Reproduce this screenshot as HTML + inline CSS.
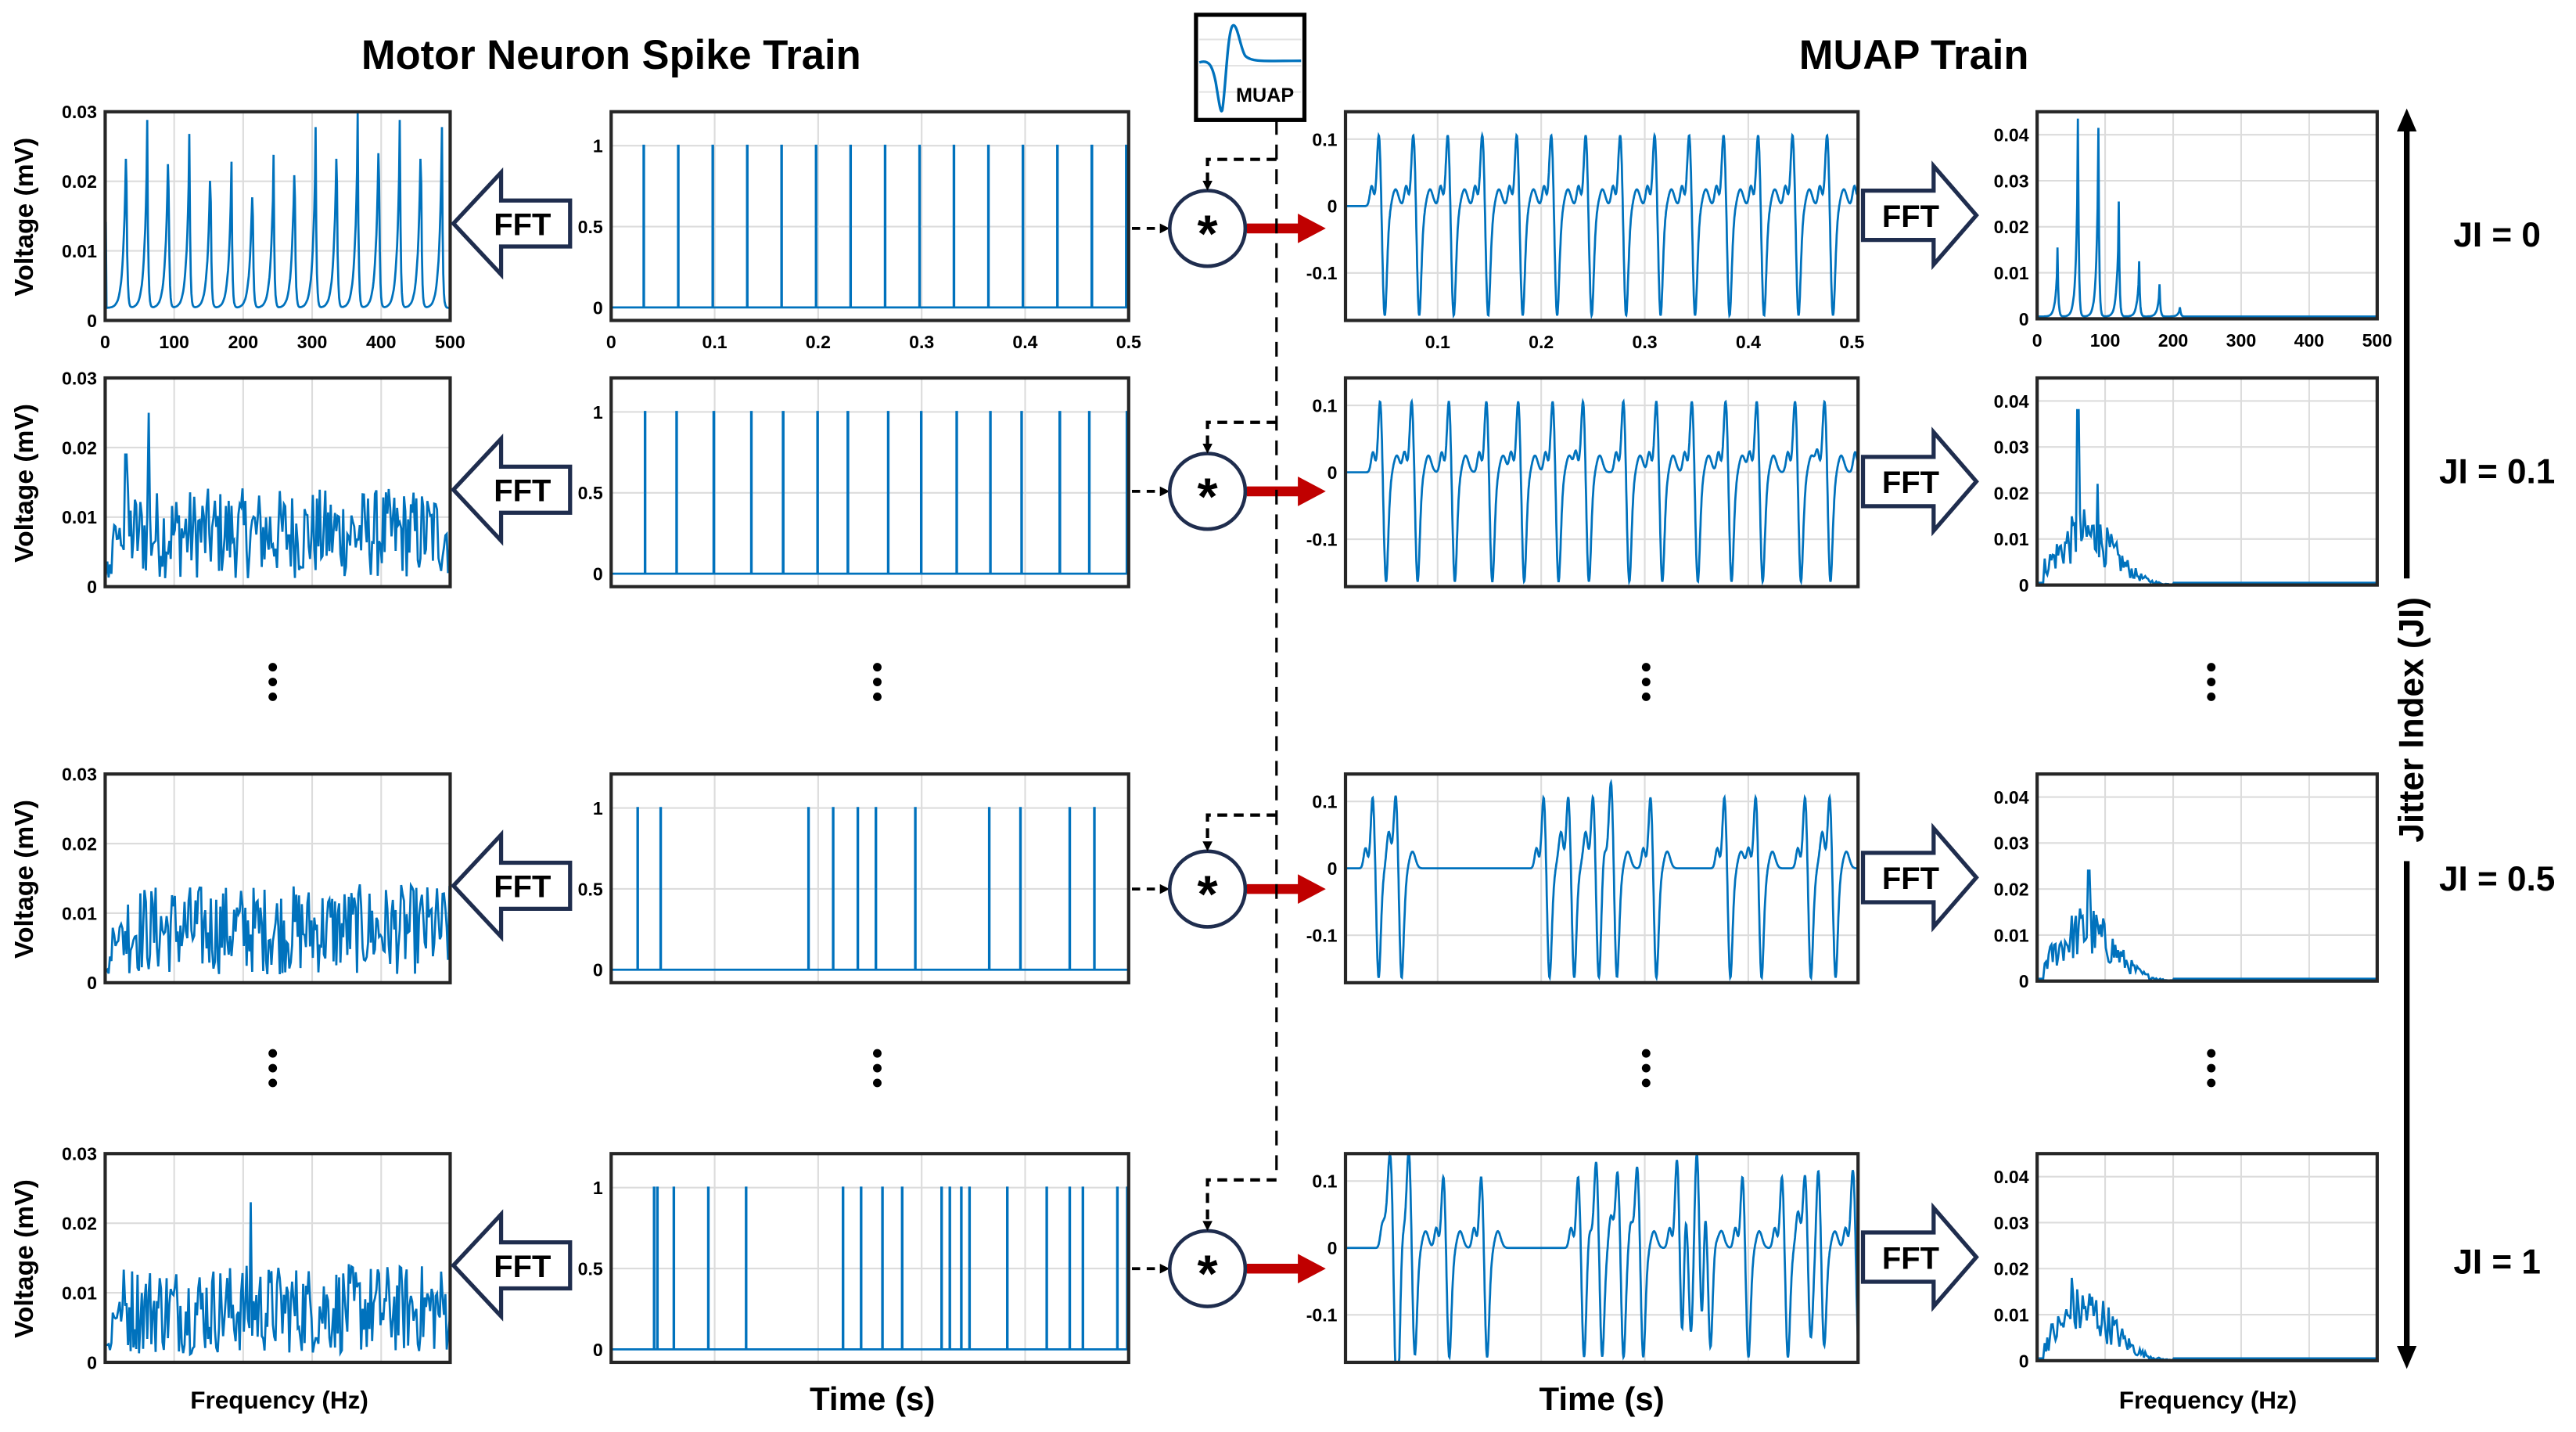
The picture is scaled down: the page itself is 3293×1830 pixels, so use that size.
<!DOCTYPE html>
<html><head><meta charset="utf-8"><style>
html,body{margin:0;padding:0;background:#fff;}
svg{display:block;}
text{font-family:"Liberation Sans",sans-serif;}
</style></head><body>
<svg id="s" xmlns="http://www.w3.org/2000/svg" width="3293" height="1830" viewBox="0 0 1568 871.4">
<rect width="1568" height="872" fill="#fff"/>
<text x="372" y="42" font-size="25" font-weight="bold" text-anchor="middle">Motor Neuron Spike Train</text>
<text x="1165" y="42" font-size="25" font-weight="bold" text-anchor="middle">MUAP Train</text>
<g id="g"></g>
</svg>
<script>
var NS="http://www.w3.org/2000/svg",G=document.getElementById("g");
function el(t,a,txt){var e=document.createElementNS(NS,t);for(var k in a)e.setAttribute(k,a[k]);if(txt!=null)e.textContent=txt;G.appendChild(e);return e;}
var seed=12345;function rnd(){seed=(seed*1103515245+12345)%2147483648;return seed/2147483648;}
function plot(X,Y,W,H,xl,yl,yt,ytl,xt,xtl,xg,pts){
 el("rect",{x:X,y:Y,width:W,height:H,fill:"#fff"});
 function mx(v){return X+(v-xl[0])/(xl[1]-xl[0])*W;}
 function my(v){return Y+H-(v-yl[0])/(yl[1]-yl[0])*H;}
 xg.forEach(function(v){var x=mx(v);el("line",{x1:x,y1:Y,x2:x,y2:Y+H,stroke:"#dcdcdc","stroke-width":1});});
 yt.forEach(function(v,i){var y=my(v);el("line",{x1:X,y1:y,x2:X+W,y2:y,stroke:"#dcdcdc","stroke-width":1});
  el("text",{x:X-5,y:y+4,"font-size":11,"font-weight":"bold","text-anchor":"end"},ytl[i]);});
 if(xt)xt.forEach(function(v,i){el("text",{x:mx(v),y:Y+H+17,"font-size":11,"font-weight":"bold","text-anchor":"middle"},xtl[i]);});
 var d="";pts.forEach(function(p,i){var x=Math.max(X,Math.min(X+W,mx(p[0]))),y=Math.max(Y,Math.min(Y+H,my(p[1])));d+=(i?"L":"M")+x.toFixed(1)+","+y.toFixed(1);});
 el("path",{d:d,fill:"none",stroke:"#0072BD","stroke-width":1.3});
 el("rect",{x:X,y:Y,width:W,height:H,fill:"none",stroke:"#262626","stroke-width":2});
}
var rows=[68,230,471,702];
var spikes=[[],[],[],[]];
for(var k=1;k<=15;k++)spikes[0].push(0.0333*k-0.002);
for(var k=1;k<=15;k++)spikes[1].push(0.0333*k-0.002+(rnd()-0.5)*0.008);
[388,402,492,507,522,533,557,602,621,651,666].forEach(function(p){spikes[2].push((p-372)/630);});
[398,400,410,431,454,513,524,537,549,573,578,585,590,613,637,651,659,680,686].forEach(function(p){spikes[3].push((p-372)/630);});
function leftSpec(r){var p=[];for(var f=0;f<=500;f+=1){var v;
 if(r==0){v=0.0018;var hs=[.027,.027,.026,.025,.023,.021,.02,.022,.024,.026,.027,.028,.028,.027,.027,.026];
  for(var i=0;i<16;i++){var fk=30.5*(i+1);var df=f-fk;v+= df>=0? hs[i]*Math.exp(-df/1.2): hs[i]*Math.exp(df/4)*0.9;}
  if(f<2)v=0.014;}
 else{v=0.007+(rnd()-0.45)*0.013*(f<25?0.3:1);if(r==1&&Math.abs(f-29)<2)v=0.019;if(r==1&&Math.abs(f-62)<2)v=0.025;if(r==3&&Math.abs(f-210)<2)v=0.023;if(f<10)v=0.001+rnd()*0.003;v=Math.max(0.0005,v);f+=1;}
 p.push([f,v]);}return p;}
function rightSpec(r){var p=[];for(var f=0;f<=500;f+=1){var v=0.0005;
 if(r==0){var hs=[.015,.043,.041,.025,.012,.007,.002];for(var i=0;i<7;i++){var df=f-30*(i+1);v+=df>=0?hs[i]*Math.exp(-df/1.2):hs[i]*Math.exp(df/3)*0.8;}}
 else{if(f>8&&f<200){var env=Math.exp(-Math.pow((f-70)/60,2))*0.012;v=env*(0.4+rnd()*1.0);}
  if(r==1&&Math.abs(f-59)<2)v=0.038;if(r==1&&Math.abs(f-88)<2)v=0.022;if(r==2&&Math.abs(f-75)<2)v=0.024;if(r==3&&Math.abs(f-50)<2)v=0.018;f+=1;}
 p.push([f,v]);}return p;}
function spikeTrain(r){var p=[[0,0]];spikes[r].forEach(function(t){p.push([t,0],[t,1],[t+0.0005,1],[t+0.0005,0]);});p.push([0.5,0]);return p;}
function muap(r){var p=[],w=0.0035;for(var t=0.011;t<=0.506;t+=0.0004){var v=0;
 spikes[r].forEach(function(s){var u=t-s-0.012;v+=0.03*Math.exp(-Math.pow((u+0.007)/0.0025,2))+0.11*Math.exp(-Math.pow(u/w*1.3,2))-0.162*Math.exp(-Math.pow((u-0.0055)/w*1.2,2))+0.025*Math.exp(-Math.pow((u-0.016)/0.004,2))-0.012*Math.exp(-Math.pow((u-0.009)/0.003,2));});
 p.push([t,v]);}return p;}
for(var r=0;r<4;r++){var Y=rows[r];var first=r==0;
 plot(64,Y,210,127,[0,500],[0,0.03],[0,0.01,0.02,0.03],["0","0.01","0.02","0.03"],first?[0,100,200,300,400,500]:null,["0","100","200","300","400","500"],[100,200,300,400],leftSpec(r));
 plot(372,Y,315,127,[0,0.5],[-0.08,1.21],[0,0.5,1],["0","0.5","1"],first?[0,0.1,0.2,0.3,0.4,0.5]:null,["0","0.1","0.2","0.3","0.4","0.5"],[0.1,0.2,0.3,0.4],spikeTrain(r));
 plot(819,Y,312,127,[0.011,0.506],[-0.171,0.141],[-0.1,0,0.1],["-0.1","0","0.1"],first?[0.1,0.2,0.3,0.4,0.5]:null,["0.1","0.2","0.3","0.4","0.5"],[0.1,0.2,0.3,0.4],muap(r));
 plot(1240,Y,207,126,[0,500],[0,0.045],[0,0.01,0.02,0.03,0.04],["0","0.01","0.02","0.03","0.04"],first?[0,100,200,300,400,500]:null,["0","100","200","300","400","500"],[100,200,300,400],rightSpec(r));
 el("text",{x:20,y:Y+64,"font-size":16,"font-weight":"bold","text-anchor":"middle",transform:"rotate(-90 20 "+(Y+64)+")"},"Voltage (mV)");
 var cy=Y+68;
 el("polygon",{points:"276,"+cy+" 305,"+(cy-31)+" 305,"+(cy-14)+" 347,"+(cy-14)+" 347,"+(cy+14)+" 305,"+(cy+14)+" 305,"+(cy+31),fill:"#fff",stroke:"#1f2d4e","stroke-width":2.5,"stroke-linejoin":"miter"});
 el("text",{x:318,y:cy+7,"font-size":19,"font-weight":"bold","text-anchor":"middle"},"FFT");
 var ry=Y+63;
 el("polygon",{points:"1134,"+(ry-15)+" 1177,"+(ry-15)+" 1177,"+(ry-30)+" 1203,"+ry+" 1177,"+(ry+30)+" 1177,"+(ry+15)+" 1134,"+(ry+15),fill:"#fff",stroke:"#1f2d4e","stroke-width":2.5});
 el("text",{x:1163,y:ry+7,"font-size":19,"font-weight":"bold","text-anchor":"middle"},"FFT");
 var cc=[139,299,541,772][r],by=[97,257,496,718][r];
 el("line",{x1:689,y1:cc,x2:708,y2:cc,stroke:"#000","stroke-width":1.8,"stroke-dasharray":"5,4"});
 el("polygon",{points:"712,"+cc+" 706,"+(cc-3)+" 706,"+(cc+3)});
 el("circle",{cx:735,cy:cc,r:23,fill:"#fff",stroke:"#1f2d4e","stroke-width":2.2});
 el("text",{x:735,y:cc+14,"font-size":32,"font-weight":"bold","text-anchor":"middle"},"*");
 el("polyline",{points:"777,"+by+" 735,"+by+" 735,"+(cc-28),fill:"none",stroke:"#000","stroke-width":2,"stroke-dasharray":"6,4"});
 el("polygon",{points:"735,"+(cc-23)+" 732,"+(cc-29)+" 738,"+(cc-29)});
 el("line",{x1:759,y1:cc,x2:792,y2:cc,stroke:"#c00000","stroke-width":6});
 el("polygon",{points:"790,"+(cc-9)+" 807,"+cc+" 790,"+(cc+9),fill:"#c00000"});
 var ji=["JI = 0","JI = 0.1","JI = 0.5","JI = 1"][r];
 el("text",{x:1520,y:[150,294,542,775][r],"font-size":21,"font-weight":"bold","text-anchor":"middle"},ji);
}
el("line",{x1:777,y1:73,x2:777,y2:718,stroke:"#000","stroke-width":1.5,"stroke-dasharray":"9,6"});
el("rect",{x:728,y:9,width:66,height:64,fill:"#fff",stroke:"#000","stroke-width":2.5});
[24,40,56].forEach(function(y){el("line",{x1:730,y1:y,x2:792,y2:y,stroke:"#e3e3e3","stroke-width":1});});
el("path",{d:"M730,38 C736,36 738,40 740,50 C742,62 743,70 744,67 C746,55 747,22 750,16 C753,12 755,30 758,34 C762,38 770,37 792,37",fill:"none",stroke:"#0072BD","stroke-width":1.6});
el("text",{x:770,y:62,"font-size":12,"font-weight":"bold","text-anchor":"middle"},"MUAP");
[415,650].forEach(function(y){[166,534,1002,1346].forEach(function(x){[-9,0,9].forEach(function(d){el("circle",{cx:x,cy:y+d,r:2.6,fill:"#000"});});});});
el("text",{x:170,y:857,"font-size":15,"font-weight":"bold","text-anchor":"middle"},"Frequency (Hz)");
el("text",{x:531,y:858,"font-size":20,"font-weight":"bold","text-anchor":"middle"},"Time (s)");
el("text",{x:975,y:858,"font-size":20,"font-weight":"bold","text-anchor":"middle"},"Time (s)");
el("text",{x:1344,y:857,"font-size":15,"font-weight":"bold","text-anchor":"middle"},"Frequency (Hz)");
el("line",{x1:1465,y1:78,x2:1465,y2:822,stroke:"#000","stroke-width":3.5});
el("polygon",{points:"1465,66 1459,80 1471,80"});
el("polygon",{points:"1465,833 1459,819 1471,819"});
el("rect",{x:1452,y:352,width:28,height:172,fill:"#fff"});
el("text",{x:1475,y:438,"font-size":21,"font-weight":"bold","text-anchor":"middle",transform:"rotate(-90 1475 438)"},"Jitter Index (JI)");
</script>
</body></html>
